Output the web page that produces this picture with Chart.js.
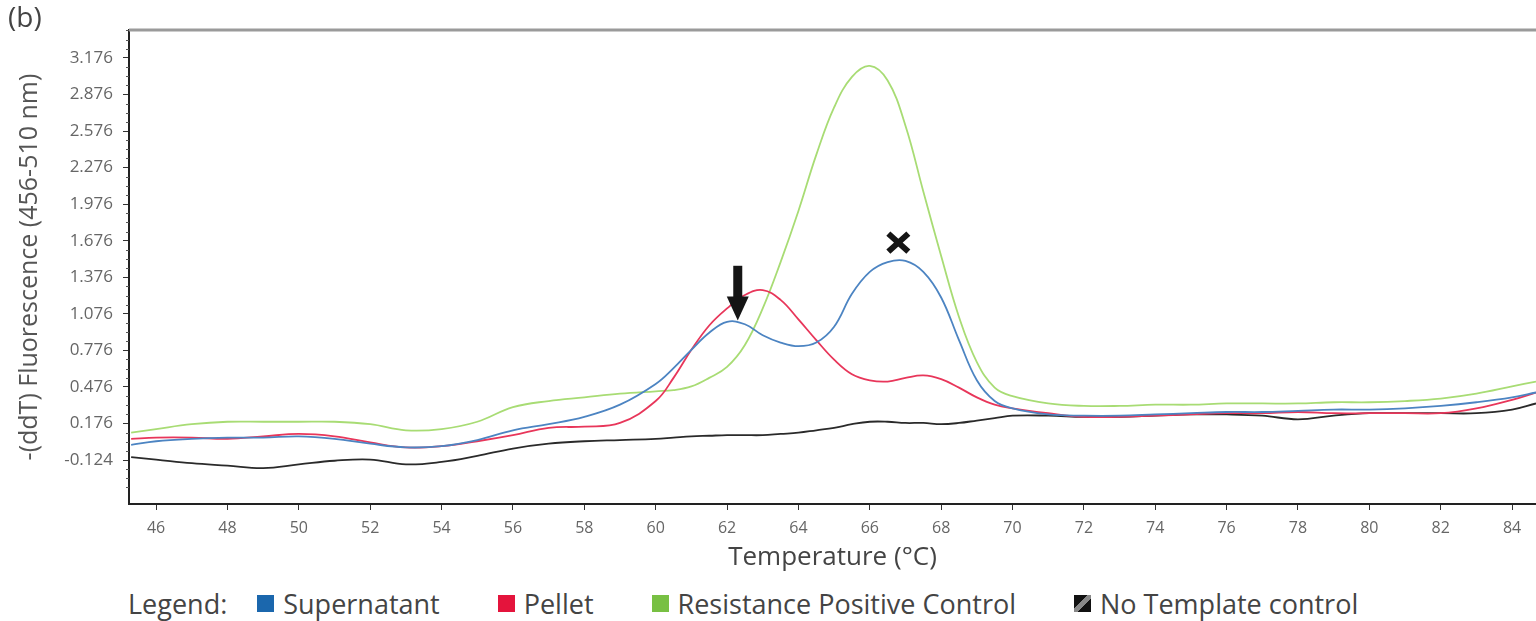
<!DOCTYPE html>
<html>
<head>
<meta charset="utf-8">
<script src="https://cdn.jsdelivr.net/npm/chart.js@4.4.1/dist/chart.umd.min.js"></script>
<style>
    body { margin: 0; background: #fff; }
    #page { position: relative; width: 1536px; height: 621px; overflow: hidden; font-family: "Open Sans", sans-serif; color: #444; }
    #panel { position: absolute; left: 8px; top: -3px; font-size: 28px; }
    #wrap { position: absolute; left: 0; top: 0; width: 1536px; height: 580px; }
    #legend { position: absolute; left: 128px; top: 585px; display: flex; align-items: center; font-size: 27px; white-space: nowrap; }
    #legend .title { margin-right: 30px; }
    #legend .item { display: flex; align-items: center; margin-right: 58px; }
    #legend .box { width: 17px; height: 17px; margin-right: 9px; }
</style>
</head>
<body>
<div id="page">
    <div id="wrap"><canvas id="meltChart"></canvas></div>
    <div id="panel">(b)</div>
    <div id="legend"><span class="title">Legend:</span></div>
</div>
<script>
// temperatures (°C)
const temps = [45.3, 46, 47, 48, 49, 50, 51, 52, 53, 54, 55, 56, 57, 58, 59, 60,
    60.5, 61, 61.5, 62, 62.5, 63, 63.5, 64, 64.5, 65, 65.5, 66, 66.5, 67, 67.5, 68, 68.5, 69, 69.5, 70,
    71, 72, 73, 74, 75, 76, 77, 78, 79, 80, 81, 82, 83, 84, 84.67];

const supernatant = [0.00, 0.03, 0.05, 0.06, 0.06, 0.07, 0.05, 0.01, -0.02, -0.01, 0.04, 0.12, 0.17, 0.23, 0.33, 0.50,
    0.63, 0.78, 0.92, 1.01, 0.99, 0.90, 0.84, 0.81, 0.84, 0.97, 1.24, 1.42, 1.50, 1.51, 1.42, 1.21, 0.86, 0.53, 0.36, 0.30,
    0.25, 0.24, 0.24, 0.25, 0.26, 0.27, 0.27, 0.28, 0.29, 0.29, 0.30, 0.32, 0.35, 0.39, 0.43];

const pellet = [0.05, 0.06, 0.06, 0.05, 0.07, 0.09, 0.07, 0.02, -0.02, -0.01, 0.03, 0.08, 0.14, 0.15, 0.18, 0.36,
    0.55, 0.78, 0.98, 1.12, 1.23, 1.27, 1.19, 1.03, 0.86, 0.70, 0.58, 0.53, 0.52, 0.55, 0.57, 0.54, 0.47, 0.39, 0.33, 0.30,
    0.26, 0.23, 0.23, 0.24, 0.25, 0.26, 0.26, 0.27, 0.26, 0.26, 0.26, 0.26, 0.30, 0.37, 0.43];

const positiveControl = [0.10, 0.13, 0.17, 0.19, 0.19, 0.19, 0.19, 0.17, 0.12, 0.13, 0.19, 0.31, 0.36, 0.39, 0.42, 0.44,
    0.45, 0.48, 0.55, 0.64, 0.82, 1.12, 1.50, 1.92, 2.38, 2.77, 3.02, 3.11, 2.99, 2.62, 2.08, 1.55, 1.05, 0.68, 0.47, 0.40,
    0.34, 0.32, 0.32, 0.33, 0.33, 0.34, 0.34, 0.34, 0.35, 0.35, 0.36, 0.38, 0.42, 0.48, 0.52];

const noTemplate = [-0.10, -0.12, -0.15, -0.17, -0.19, -0.16, -0.13, -0.12, -0.16, -0.14, -0.09, -0.03, 0.01, 0.03, 0.04, 0.05,
    0.06, 0.07, 0.075, 0.08, 0.08, 0.08, 0.09, 0.10, 0.12, 0.14, 0.17, 0.19, 0.19, 0.18, 0.18, 0.17, 0.18, 0.20, 0.22, 0.24,
    0.24, 0.23, 0.23, 0.24, 0.25, 0.25, 0.24, 0.21, 0.24, 0.26, 0.26, 0.26, 0.26, 0.29, 0.34];

const xTicks = [46, 48, 50, 52, 54, 56, 58, 60, 62, 64, 66, 68, 70, 72, 74, 76, 78, 80, 82, 84];
const yTicks = [-0.124, 0.176, 0.476, 0.776, 1.076, 1.376, 1.676, 1.976, 2.276, 2.576, 2.876, 3.176];

// peak markers (temperature, fluorescence)
const arrowMark = { t: 62.3, from: 1.47, to: 1.02 };
const crossMark = { t: 66.8, v: 1.66 };

const series = [
    { label: "Supernatant", values: supernatant, line: "#4c84c2", box: "#1b67ad" },
    { label: "Pellet", values: pellet, line: "#e8365a", box: "#e4143c" },
    { label: "Resistance Positive Control", values: positiveControl, line: "#a8dc74", box: "#78c043" },
    { label: "No Template control", values: noTemplate, line: "#2a2a2a", box: "ntc" }
];

function toPoints(values) {
    return temps.map((t, i) => ({ x: t, y: values[i] }));
}

// html legend
const legendEl = document.getElementById("legend");
series.forEach(s => {
    const item = document.createElement("span");
    item.className = "item";
    const box = document.createElement("span");
    box.className = "box";
    box.style.background = s.box === "ntc"
        ? "linear-gradient(135deg, #111 0 40%, #888 40% 60%, #111 60% 100%)"
        : s.box;
    item.appendChild(box);
    item.appendChild(document.createTextNode(s.label));
    legendEl.appendChild(item);
});

const markPlugin = {
    id: "marks",
    afterDraw(chart) {
        const ctx = chart.ctx;
        const area = chart.chartArea;
        const xs = chart.scales.x, ys = chart.scales.y;
        ctx.save();

        // top frame line
        ctx.strokeStyle = "#9a9a9a";
        ctx.lineWidth = 3;
        ctx.beginPath();
        ctx.moveTo(area.left, area.top);
        ctx.lineTo(area.right, area.top);
        ctx.stroke();

        // minor ticks on the y axis
        ctx.strokeStyle = "#555";
        ctx.lineWidth = 1;
        for (let i = 0; i < yTicks.length; i++) {
            for (let k = -3; k <= 3; k++) {
                if (k === 0) continue;
                if (i > 0 && k < 0) continue;
                const v = yTicks[i] + k * 0.075;
                if (v < ys.min || v > ys.max) continue;
                const py = Math.round(ys.getPixelForValue(v)) + 0.5;
                ctx.beginPath();
                ctx.moveTo(area.left - 3, py);
                ctx.lineTo(area.left, py);
                ctx.stroke();
            }
        }

        // down arrow over the first peak
        const ax = xs.getPixelForValue(arrowMark.t);
        const aTop = ys.getPixelForValue(arrowMark.from);
        const aTip = ys.getPixelForValue(arrowMark.to);
        ctx.fillStyle = "#151515";
        ctx.fillRect(ax - 4.5, aTop, 9, (aTip - aTop) - 18);
        ctx.beginPath();
        ctx.moveTo(ax - 11, aTip - 24);
        ctx.lineTo(ax + 11, aTip - 24);
        ctx.lineTo(ax, aTip);
        ctx.closePath();
        ctx.fill();

        // cross over the second peak
        const cx = xs.getPixelForValue(crossMark.t);
        const cy = ys.getPixelForValue(crossMark.v);
        ctx.strokeStyle = "#151515";
        ctx.lineWidth = 6;
        ctx.beginPath();
        ctx.moveTo(cx - 10, cy - 9);
        ctx.lineTo(cx + 10, cy + 9);
        ctx.moveTo(cx + 10, cy - 9);
        ctx.lineTo(cx - 10, cy + 9);
        ctx.stroke();

        ctx.restore();
    }
};

const ctx = document.getElementById("meltChart").getContext("2d");

new Chart(ctx, {
    type: "line",
    data: {
        datasets: series.map(s => ({
            label: s.label,
            data: toPoints(s.values),
            borderColor: s.line,
            borderWidth: 1.8,
            pointRadius: 0,
            fill: false,
            tension: 0.4
        }))
    },
    options: {
        responsive: true,
        maintainAspectRatio: false,
        animation: false,
        devicePixelRatio: 1,
        layout: { padding: { top: 30, right: 0, left: 0, bottom: 0 } },
        plugins: {
            legend: { display: false },
            tooltip: { enabled: false }
        },
        scales: {
            x: {
                type: "linear",
                min: 45.24,
                max: 84.67,
                afterBuildTicks: scale => { scale.ticks = xTicks.map(v => ({ value: v })); },
                afterFit: scale => { scale.height = 76; },
                ticks: {
                    autoSkip: false,
                    maxRotation: 0,
                    padding: 9,
                    color: "#666",
                    font: { family: "Open Sans", size: 16 },
                    callback: v => String(v)
                },
                grid: { drawOnChartArea: false, drawTicks: true, tickLength: 6, tickColor: "#333" },
                border: { color: "#222", width: 2 },
                title: {
                    display: true,
                    text: "Temperature (°C)",
                    color: "#444",
                    font: { family: "Open Sans", size: 26 },
                    padding: { top: 0, bottom: 7 }
                }
            },
            y: {
                type: "linear",
                min: -0.485,
                max: 3.405,
                afterBuildTicks: scale => { scale.ticks = yTicks.map(v => ({ value: v })); },
                afterFit: scale => { scale.width = 129; },
                ticks: {
                    padding: 10,
                    color: "#666",
                    font: { family: "Open Sans", size: 17 },
                    callback: v => v.toFixed(3)
                },
                grid: { drawOnChartArea: false, drawTicks: true, tickLength: 6, tickColor: "#333" },
                border: { color: "#222", width: 2 },
                title: {
                    display: true,
                    text: "-(ddT) Fluorescence (456-510 nm)",
                    color: "#555",
                    font: { family: "Open Sans", size: 25 },
                    padding: { top: 15, bottom: 0 }
                }
            }
        }
    },
    plugins: [markPlugin]
});
</script>
</body>
</html>
